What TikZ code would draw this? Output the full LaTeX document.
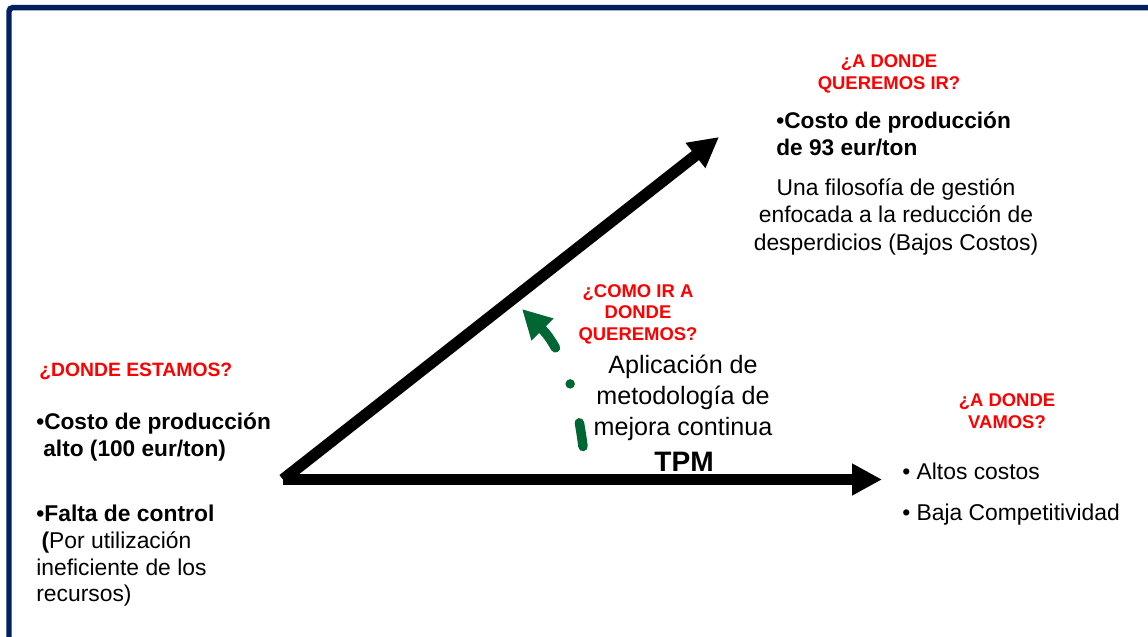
\documentclass[tikz,border=0pt]{standalone}
\usepackage{fontspec}
\setmainfont{Liberation Sans}
\usetikzlibrary{arrows.meta}

\definecolor{azulmarco}{RGB}{0,32,96}
\definecolor{rojo}{RGB}{255,0,0}
\definecolor{verde}{RGB}{0,102,51}

\tikzstyle{pregunta} = [text=rojo, inner sep=0pt, align=center, font=\bfseries\fontsize{10.5}{12.4}\selectfont]
\tikzstyle{puntos} = [inner sep=0pt, align=left, font=\bfseries\fontsize{12.9}{15.3}\selectfont]
\tikzstyle{texto} = [inner sep=0pt, font=\fontsize{13}{15.6}\selectfont]
\tikzstyle{flecha} = [draw, line width=0.23cm, -{Triangle[length=0.6cm, width=0.6cm]}]
\tikzstyle{camino} = [draw=verde, line width=0.19cm, line cap=round,
     dash pattern=on 0.48cm off 0.8cm on 0cm off 0.78cm on 2cm,
     -{Triangle[length=0.58cm, width=0.58cm]}]
\tikzstyle{marco} = [draw=azulmarco, line width=0.11cm, rounded corners=0.08cm]

\begin{document}
\begin{tikzpicture}[x=0.02cm, y=-0.02cm]
    \useasboundingbox (0,0) rectangle (1148,636);
    \path[marco] (9,660) -- (9,7.5) -- (1170,7.5);

    % Place nodes (base = last line)
    \node [pregunta, anchor=base west, font=\bfseries\fontsize{11}{12.4}\selectfont] (donde_estamos) at (39,376) {¿DONDE ESTAMOS?};
    \node [puntos, anchor=base west] (costo_alto) at (36,456.7) {•Costo de producción\\\hspace*{4pt}alto (100 eur/ton)};
    \node [texto, align=left, anchor=base west, font=\fontsize{13}{15.2}\selectfont] (falta_control) at (36,601.7) {\textbf{•Falta de control}\\\hspace*{3pt}\textbf{(}Por utilización\\ineficiente de los\\recursos)};

    \node [pregunta, anchor=base] (donde_queremos_ir) at (889,89.3) {¿A DONDE\\QUEREMOS IR?};
    \node [puntos, anchor=base west] (costo_meta) at (776,155) {•Costo de producción\\de 93 eur/ton};
    \node [texto, align=center, anchor=base] (filosofia) at (896,250) {Una filosofía de gestión\\enfocada a la reducción de\\desperdicios (Bajos Costos)};

    \node [pregunta, anchor=base] (como_ir) at (638,340.7) {¿COMO IR A\\DONDE\\QUEREMOS?};
    \node [inner sep=0pt, align=center, anchor=base, font=\fontsize{14.3}{17.6}\selectfont] (aplicacion) at (683,435) {Aplicación de\\metodología de\\mejora continua};
    \node [inner sep=0pt, anchor=base, font=\bfseries\fontsize{16}{19}\selectfont] (tpm) at (684,471) {TPM};

    \node [pregunta, anchor=base] (donde_vamos) at (1007,428.3) {¿A DONDE\\VAMOS?};
    \node [texto, align=left, anchor=base west, font=\fontsize{13}{23.2}\selectfont] (consecuencias) at (902,520) {• Altos costos\\• Baja Competitividad};

    \coordinate (vertice) at (283,479.5);
    \coordinate (meta) at (719,137);
    \coordinate (tendencia) at (882,479.5);
    \coordinate (inicio_verde) at (583,446.5);
    \coordinate (fin_verde) at (522,309);

    % Draw edges
    \path [flecha] (vertice) -- (meta);
    \path [flecha] (vertice) -- (tendencia);
    \path [camino] (inicio_verde) .. controls (576.4,394) and (562,349) .. (fin_verde);

\end{tikzpicture}
\end{document}
